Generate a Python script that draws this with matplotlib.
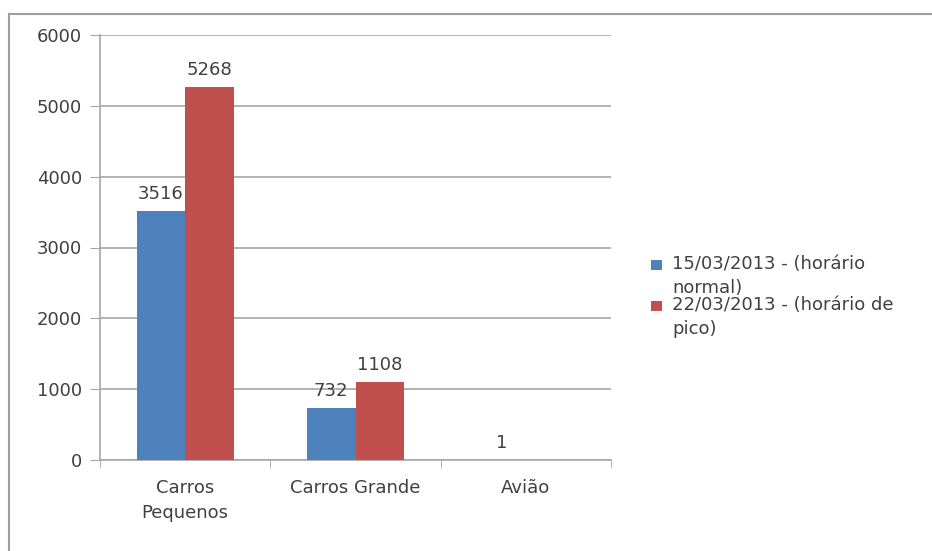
import matplotlib
matplotlib.use("Agg")
import matplotlib.pyplot as plt
from matplotlib.patches import Rectangle
import numpy as np

categories = ["Carros\nPequenos", "Carros Grande", "Avião"]
series_names = ["15/03/2013 - (horário\nnormal)", "22/03/2013 - (horário de\npico)"]
normal_values = [3516, 732, 1]
peak_values = [5268, 1108, None]
colors = ["#4F81BD", "#C0504D"]
y_ticks = [0, 1000, 2000, 3000, 4000, 5000, 6000]

text_color = "#404040"
grid_color = "#A6A6A6"
fs = 13

fig = plt.figure(figsize=(9.32, 5.51), dpi=100)
ax = fig.add_axes([100 / 932, 1 - 460 / 551, 511 / 932, 425 / 551])

x = np.arange(len(categories))
bar_w = 1 / 3.5  # gap width 150%
for i, (vals, col) in enumerate(zip([normal_values, peak_values], colors)):
    offs = (i - 0.5) * bar_w
    for xi, v in zip(x, vals):
        if v is None:
            continue
        ax.bar(xi + offs, v, width=bar_w, color=col, zorder=3)
        ax.text(xi + offs, v + 110, f"{v}", ha="center", va="bottom",
                fontsize=fs, color=text_color, zorder=4)

ax.set_xlim(-0.5, len(categories) - 0.5)
ax.set_ylim(0, 6000)
ax.set_yticks(y_ticks)
ax.set_yticklabels([str(t) for t in y_ticks], fontsize=fs, color=text_color)
ax.yaxis.grid(True, color=grid_color, linewidth=1.2, zorder=0)
ax.tick_params(axis="y", length=7, color=grid_color, pad=6)

ax.set_xticks(x)
ax.set_xticklabels(categories, fontsize=fs, color=text_color, linespacing=1.45)
ax.tick_params(axis="x", which="major", length=0, pad=14)
ax.set_xticks(np.arange(-0.5, len(categories), 1), minor=True)
ax.tick_params(axis="x", which="minor", length=6, color=grid_color)

for s in ["top", "right"]:
    ax.spines[s].set_visible(False)
for s in ["left", "bottom"]:
    ax.spines[s].set_color(grid_color)
    ax.spines[s].set_linewidth(1.2)

# Legend drawn in figure coordinates
W, H = 932, 551
legend_rows = [260, 301]
for name, col, top in zip(series_names, colors, legend_rows):
    fig.patches.append(Rectangle((651 / W, 1 - (top + 10) / H), 11 / W, 10 / H,
                                 transform=fig.transFigure, facecolor=col,
                                 edgecolor="none"))
    fig.text(672 / W, 1 - (top - 5) / H, name, fontsize=fs, color=text_color,
             ha="left", va="top", linespacing=1.4)

# Chart border
fig.patches.append(Rectangle((9 / W, -0.1), 1.2, 1 - 14 / H + 0.1,
                             transform=fig.transFigure, fill=False,
                             edgecolor="#9E9E9E", linewidth=1.5))

fig.savefig("out.png", dpi=100)
